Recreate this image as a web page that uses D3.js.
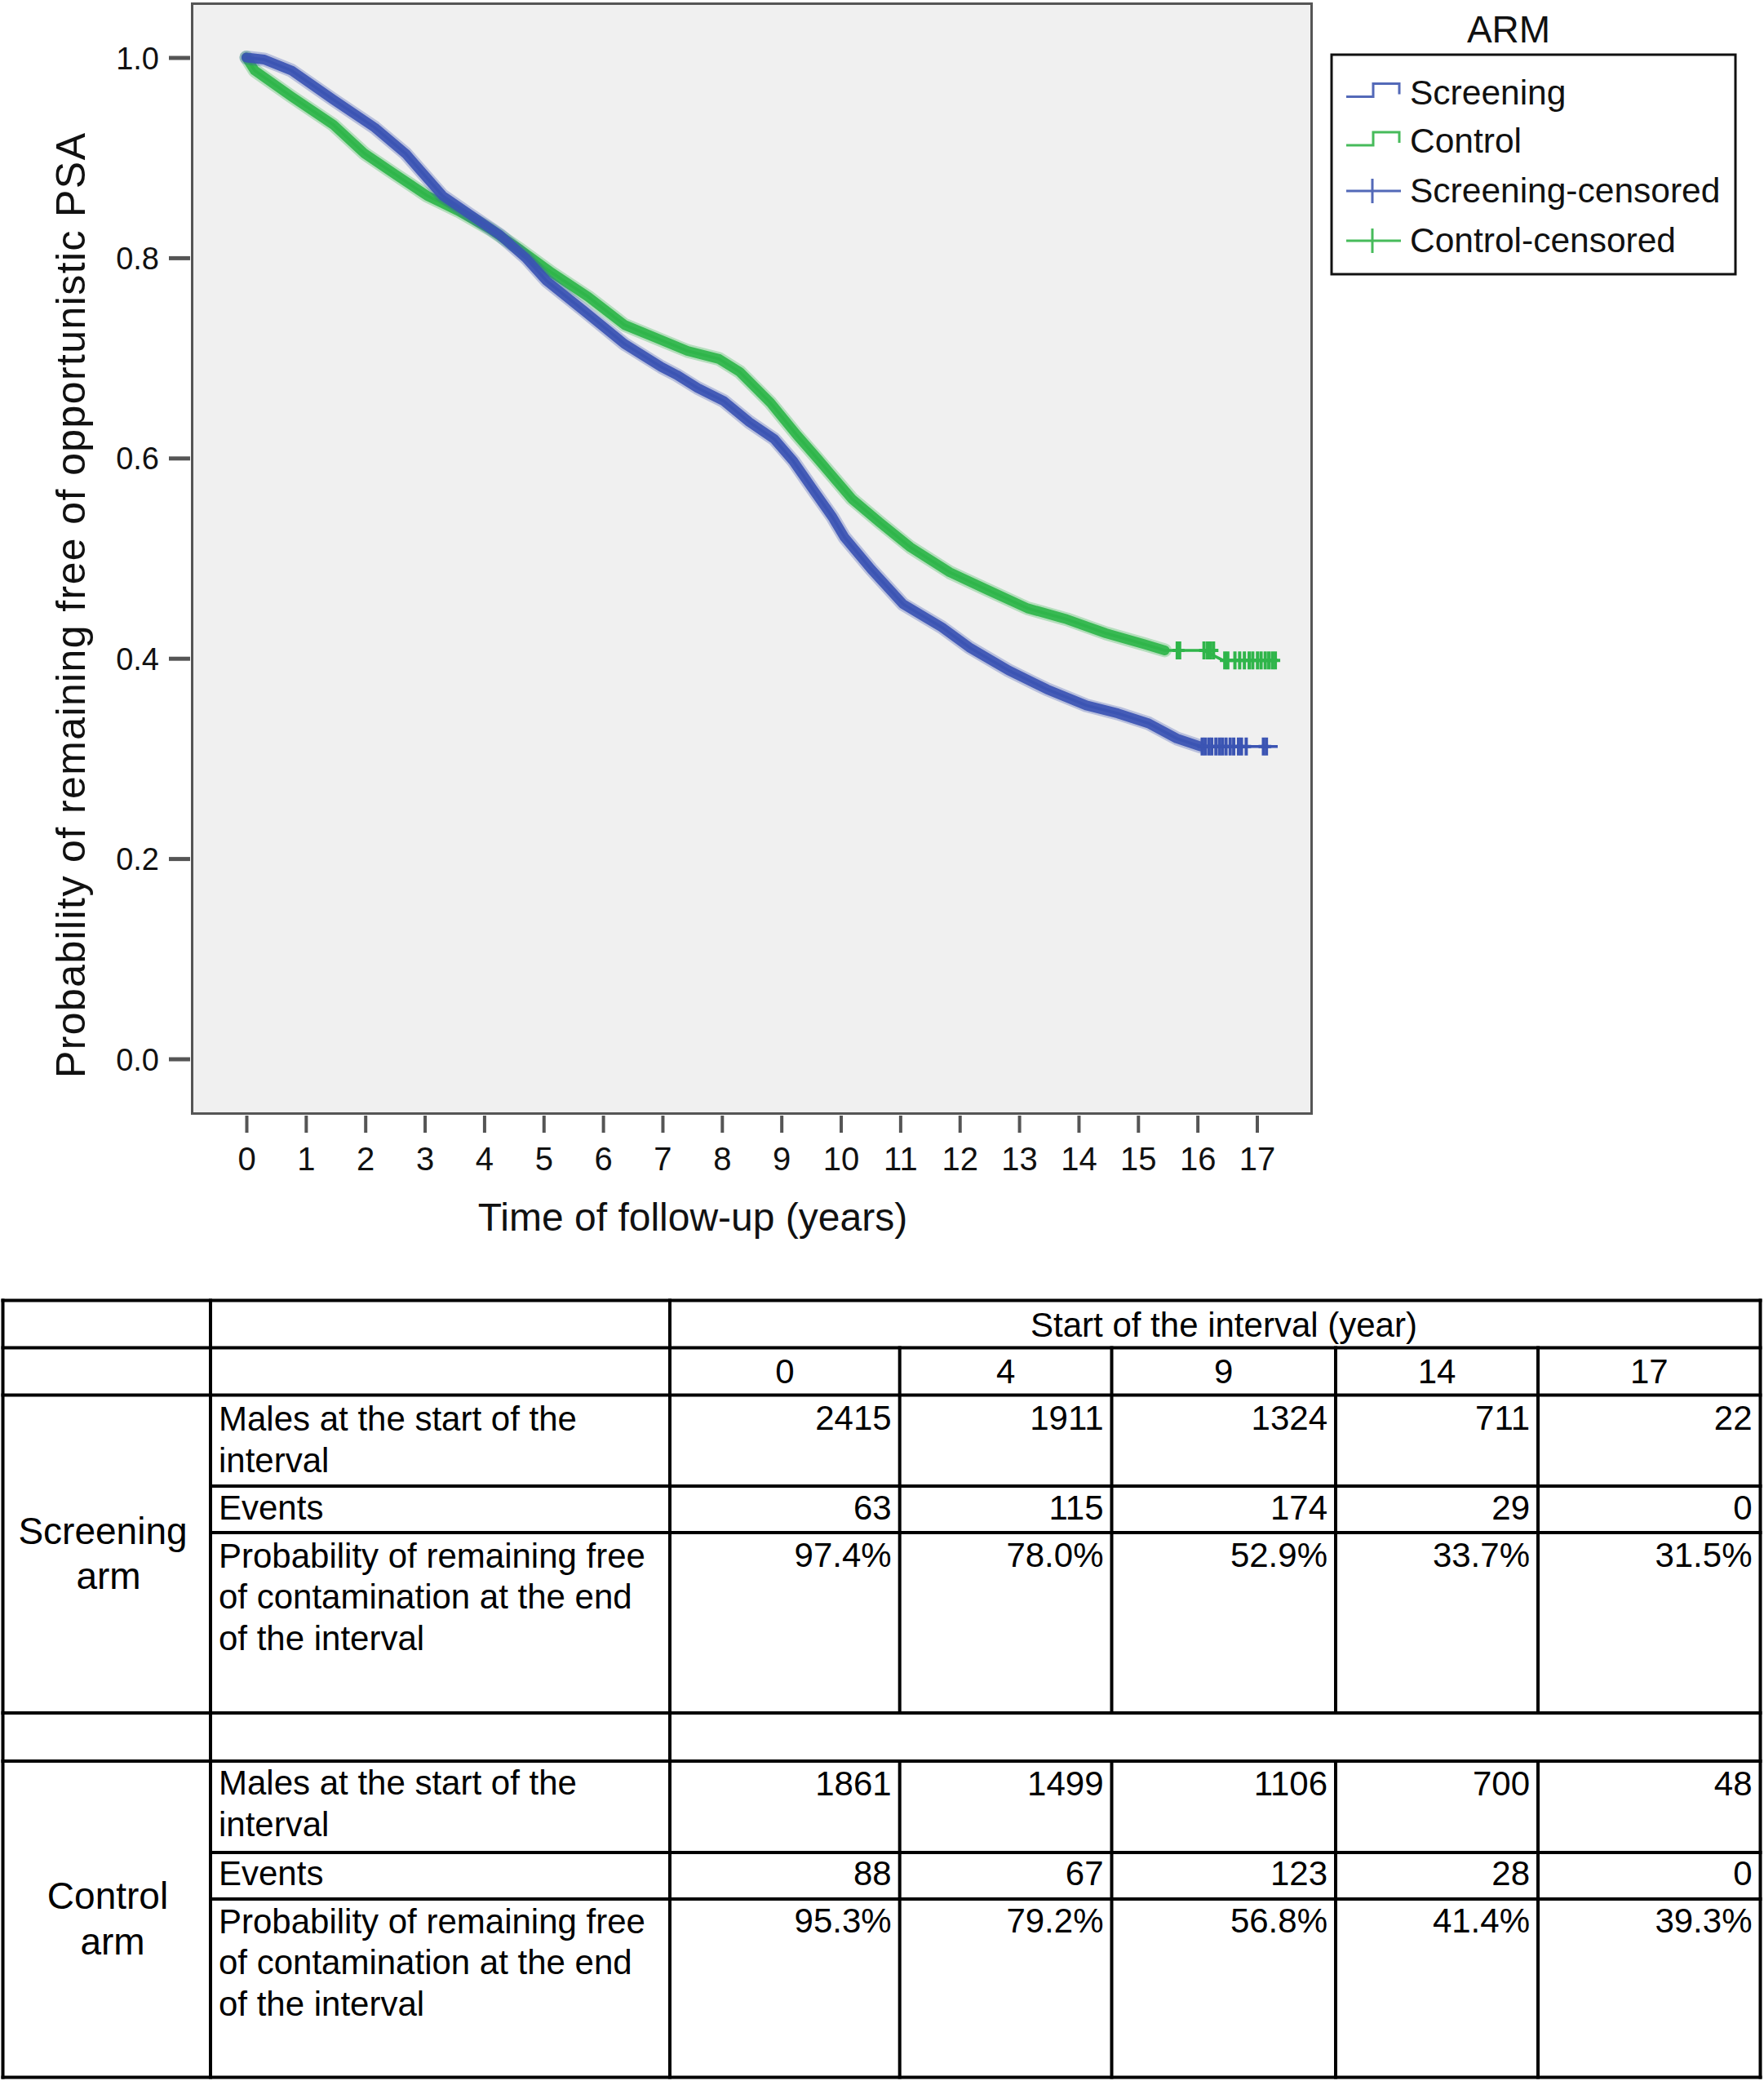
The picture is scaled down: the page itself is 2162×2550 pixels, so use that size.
<!DOCTYPE html>
<html>
<head>
<meta charset="utf-8">
<script src="https://cdn.jsdelivr.net/npm/d3@7/dist/d3.min.js"></script>
<style>
  html, body { margin: 0; padding: 0; background: #fff; }
  svg { display: block; font-family: "Liberation Sans", Arial, Helvetica, sans-serif; }
</style>
</head>
<body>
<script>
// ---------------- DATA ----------------
const xTicks = [0,1,2,3,4,5,6,7,8,9,10,11,12,13,14,15,16,17];
const yTicks = [0.0, 0.2, 0.4, 0.6, 0.8, 1.0];

// Kaplan-Meier curves (time in years, probability)
const screeningTime = [0, 0.3, 0.76, 1.46, 2.16, 2.68, 3.30, 3.74, 4.26, 4.70, 5.05, 5.66, 6.36, 6.98, 7.24, 7.59, 8.03, 8.46, 8.88, 9.2, 9.54, 9.86, 10.06, 10.51, 11.05, 11.7, 12.16, 12.82, 13.47, 14.13, 14.66, 15.18, 15.65, 16.05, 17.35];
const screeningSurv = [1.0, 0.998, 0.987, 0.958, 0.930, 0.904, 0.862, 0.844, 0.823, 0.800, 0.777, 0.748, 0.714, 0.691, 0.683, 0.670, 0.657, 0.636, 0.619, 0.597, 0.568, 0.541, 0.521, 0.489, 0.454, 0.431, 0.411, 0.388, 0.369, 0.353, 0.345, 0.335, 0.320, 0.312, 0.312];

const controlTime = [0, 0.14, 0.76, 1.46, 1.99, 2.51, 3.04, 3.56, 4.09, 4.61, 5.14, 5.75, 6.36, 6.89, 7.42, 7.95, 8.30, 8.82, 9.26, 9.6, 10.19, 10.65, 11.17, 11.83, 12.48, 13.14, 13.80, 14.46, 15.11, 15.45, 16.1, 16.43, 17.35];
const controlSurv = [1.0, 0.987, 0.961, 0.933, 0.904, 0.883, 0.862, 0.847, 0.829, 0.808, 0.785, 0.761, 0.733, 0.720, 0.707, 0.699, 0.686, 0.655, 0.623, 0.600, 0.559, 0.536, 0.511, 0.486, 0.468, 0.450, 0.439, 0.425, 0.414, 0.408, 0.408, 0.398, 0.398];

// distinct censoring marks visible at the tail of each curve (years)
const screeningCensorTail = [16.08, 16.13, 16.19, 16.24, 16.31, 16.37, 16.42, 16.48, 16.55, 16.61, 16.69, 16.74, 16.82, 17.11, 17.16];
const controlCensorTail = [15.66, 15.70, 16.11, 16.17, 16.22, 16.27, 16.46, 16.51, 16.63, 16.71, 16.79, 16.87, 16.93, 17.01, 17.07, 17.14, 17.2, 17.26, 17.31];

const legendTitle = "ARM";
const legendLabels = ["Screening", "Control", "Screening-censored", "Control-censored"];

// Table
const intervalStarts = ["0", "4", "9", "14", "17"];
const rowLabels = [["Males at the start of the", "interval"], ["Events"], ["Probability of remaining free", "of contamination at the end", "of the interval"]];
const screeningMales = [2415, 1911, 1324, 711, 22];
const screeningEvents = [63, 115, 174, 29, 0];
const screeningProb = ["97.4%", "78.0%", "52.9%", "33.7%", "31.5%"];
const controlMales = [1861, 1499, 1106, 700, 48];
const controlEvents = [88, 67, 123, 28, 0];
const controlProb = ["95.3%", "79.2%", "56.8%", "41.4%", "39.3%"];

// ---------------- DRAW ----------------
const W = 2162, H = 2550;
const svg = d3.select("body").append("svg").attr("width", W).attr("height", H).attr("viewBox", `0 0 ${W} ${H}`);

const blue = "#3b54b3", green = "#2fb54a";
const blueLeg = "#5369b8", greenLeg = "#47bb5b";

const plot = {left: 234, top: 3, right: 1609, bottom: 1366};
const x = d3.scaleLinear().domain([0, 17]).range([302, 1540.5]);
const y = d3.scaleLinear().domain([0, 1]).range([1297.5, 70.5]);

svg.append("rect").attr("x", plot.left + 1.5).attr("y", plot.top + 1.5)
  .attr("width", plot.right - plot.left - 3).attr("height", plot.bottom - plot.top - 3)
  .attr("fill", "#f0f0f0").attr("stroke", "#555").attr("stroke-width", 3);

// Y axis
const yAxis = svg.append("g").attr("transform", `translate(${plot.left - 1},0)`)
  .call(d3.axisLeft(y).tickValues(yTicks).tickFormat(d3.format(".1f")).tickSize(26).tickPadding(12));
yAxis.select(".domain").remove();
yAxis.selectAll(".tick line").attr("stroke", "#555").attr("stroke-width", 5);
yAxis.selectAll(".tick text").attr("font-size", 38).attr("fill", "#111")
  .attr("font-family", '"Liberation Sans", Arial, sans-serif').attr("dy", "0.36em");

// X axis
const xAxis = svg.append("g").attr("transform", `translate(0,${plot.bottom + 1})`)
  .call(d3.axisBottom(x).tickValues(xTicks).tickFormat(d3.format("d")).tickSize(21));
xAxis.select(".domain").remove();
xAxis.selectAll(".tick line").attr("stroke", "#555").attr("stroke-width", 4);
xAxis.selectAll(".tick text").attr("font-size", 40).attr("fill", "#111")
  .attr("font-family", '"Liberation Sans", Arial, sans-serif').attr("y", 67).attr("dy", 0);

// Axis titles
svg.append("text").attr("x", 849).attr("y", 1508).attr("text-anchor", "middle")
  .attr("font-size", 48).attr("fill", "#111").text("Time of follow-up (years)");
svg.append("text").attr("transform", "translate(104,742) rotate(-90)").attr("text-anchor", "middle")
  .attr("font-size", 50).attr("fill", "#111")
  .attr("textLength", 1158).attr("lengthAdjust", "spacing")
  .text("Probability of remaining free of opportunistic PSA");

// Curves
const series = [
  {name: "Screening", color: blue, pts: screeningTime.map((t, i) => ({t, s: screeningSurv[i]})), denseUntil: 16.05, tail: screeningCensorTail},
  {name: "Control", color: green, pts: controlTime.map((t, i) => ({t, s: controlSurv[i]})), denseUntil: 15.45, tail: controlCensorTail}
];
const line = d3.line().x(d => x(d.t)).y(d => y(d.s)).curve(d3.curveLinear);
const survAt = (pts, t) => { let v = pts[0].s; for (const p of pts) { if (p.t <= t) v = p.s; } return v; };

const curves = svg.append("g");
[series[1], series[0]].forEach(sr => {
  const g = curves.append("g");
  const dense = sr.pts.filter(p => p.t <= sr.denseUntil);
  // fuzzy outer band of censoring marks
  g.append("path").datum(dense)
    .attr("d", line).attr("fill", "none").attr("stroke", sr.color)
    .attr("stroke-width", 17).attr("stroke-linejoin", "round").attr("stroke-linecap", "round").attr("opacity", 0.3);
  // dense band
  g.append("path").datum(dense)
    .attr("d", line).attr("fill", "none").attr("stroke", sr.color)
    .attr("stroke-width", 12).attr("stroke-linejoin", "round").attr("stroke-linecap", "round").attr("opacity", 0.92);
  // survival line
  g.append("path").datum(sr.pts).attr("d", line).attr("fill", "none")
    .attr("stroke", sr.color).attr("stroke-width", 3.5);
  // tail censor marks
  g.selectAll(".cm").data(sr.tail).join("path")
    .attr("d", t => { const cx = x(t), cy = y(survAt(sr.pts, t)); return `M${cx},${cy - 11}V${cy + 11}M${cx - 6},${cy}H${cx + 6}`; })
    .attr("stroke", sr.color).attr("stroke-width", 4).attr("fill", "none");
});

// Legend
svg.append("text").attr("x", 1849).attr("y", 52).attr("text-anchor", "middle")
  .attr("font-size", 46).attr("fill", "#111").text(legendTitle);
svg.append("rect").attr("x", 1632).attr("y", 67).attr("width", 495).attr("height", 269)
  .attr("fill", "#fff").attr("stroke", "#111").attr("stroke-width", 3);
const legBase = [127.5, 187, 248, 309];
const legColors = [blueLeg, greenLeg, blueLeg, greenLeg];
legendLabels.forEach((lab, i) => {
  const b = legBase[i];
  const c = legColors[i];
  if (i < 2) {
    svg.append("path").attr("d", `M1650,${b - 9}H1683V${b - 25}H1715V${b - 12}`)
      .attr("fill", "none").attr("stroke", c).attr("stroke-width", 3);
  } else {
    svg.append("path").attr("d", `M1650,${b - 14}H1717M1682,${b - 29}V${b + 1}`)
      .attr("fill", "none").attr("stroke", c).attr("stroke-width", 3);
  }
  svg.append("text").attr("x", 1728).attr("y", b).attr("font-size", 42.5).attr("fill", "#111").text(lab);
});

// Table
const T = svg.append("g");
const tl = {L: 3.5, C1: 258, C2: 821, R: 2157.5};
const colEdges = [821, 1102.7, 1362.5, 1637, 1885, 2157.5];
const rowY = {top: 1593.5, h1: 1651.5, h2: 1709.5, sM: 1821, sE: 1878, sEnd: 2099, gap: 2158, cM: 2270, cE: 2327, bottom: 2545.5};
const lw = 4;
const hline = (yy, x1, x2) => T.append("line").attr("x1", x1 - lw / 2).attr("x2", x2 + lw / 2).attr("y1", yy).attr("y2", yy).attr("stroke", "#000").attr("stroke-width", lw);
const vline = (xx, y1, y2) => T.append("line").attr("x1", xx).attr("x2", xx).attr("y1", y1 - lw / 2).attr("y2", y2 + lw / 2).attr("stroke", "#000").attr("stroke-width", lw);
[rowY.top, rowY.h1, rowY.h2, rowY.sEnd, rowY.gap, rowY.bottom].forEach(yy => hline(yy, tl.L, tl.R));
[rowY.sM, rowY.sE, rowY.cM, rowY.cE].forEach(yy => hline(yy, tl.C1, tl.R));
[tl.L, tl.C1, tl.C2, tl.R].forEach(xx => vline(xx, rowY.top, rowY.bottom));
colEdges.slice(1, 5).forEach(xx => { vline(xx, rowY.h1, rowY.sEnd); vline(xx, rowY.gap, rowY.bottom); });

const fs = 42;
const txt = (s, xx, yy, anchor, size) => T.append("text").attr("x", xx).attr("y", yy).attr("text-anchor", anchor || "start")
  .attr("font-size", size || fs).attr("fill", "#000").text(s);

txt("Start of the interval (year)", 1500, 1638, "middle");
intervalStarts.forEach((s, i) => txt(s, (colEdges[i] + colEdges[i + 1]) / 2, 1695, "middle"));

const blocks = [
  {arm: ["Screening", "arm"], armX: [126, 133], armY: [1892, 1947], males: screeningMales, events: screeningEvents, prob: screeningProb,
   labelY: [[1752.5, 1803.5], [1862], [1921, 1971, 2022]], valY: [1752, 1862, 1920]},
  {arm: ["Control", "arm"], armX: [132, 138], armY: [2339, 2394.5], males: controlMales, events: controlEvents, prob: controlProb,
   labelY: [[2198.5, 2249.5], [2310], [2369, 2419, 2470]], valY: [2199.5, 2310, 2368]}
];
blocks.forEach(bk => {
  bk.arm.forEach((s, i) => txt(s, bk.armX[i], bk.armY[i], "middle", 46));
  rowLabels.forEach((lines, r) => lines.forEach((s, k) => txt(s, 268, bk.labelY[r][k])));
  [bk.males, bk.events, bk.prob].forEach((vals, r) => vals.forEach((v, i) => txt(String(v), colEdges[i + 1] - 10, bk.valY[r], "end")));
});
</script>
</body>
</html>
